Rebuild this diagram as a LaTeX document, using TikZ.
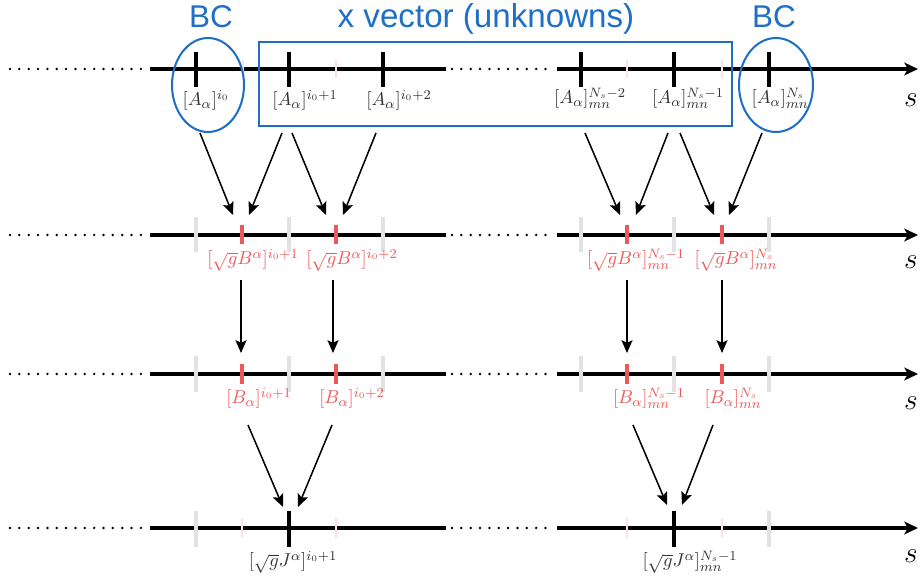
\documentclass[tikz,border=0pt]{standalone}
\usepackage{fontspec}
\newfontfamily\hdfont{Liberation Sans}
\usetikzlibrary{arrows.meta}
\definecolor{kblue}{HTML}{1F6FC5}
\definecolor{kred}{HTML}{EE5858}
\definecolor{kgray}{HTML}{E2E2E2}
\definecolor{kpink}{HTML}{FBE2E2}
\definecolor{ktext}{HTML}{333333}
\begin{document}
\begin{tikzpicture}[x=0.5883pt,y=-0.5883pt,
  axisline/.style={line width=1.8pt},
  axisarrow/.style={line width=1.8pt,-{Stealth[length=8pt,width=7.5pt,inset=2pt]}},
  dotline/.style={line width=1.6pt,line cap=round,dash pattern=on 0pt off 5.5pt},
  tickblack/.style={line width=1.8pt},
  tickred/.style={draw=kred,line width=1.8pt},
  tickgray/.style={draw=kgray,line width=1.8pt},
  tickpink/.style={draw=kpink,line width=1.2pt},
  flow/.style={line width=0.9pt,-{Stealth[length=7.5pt,width=6.5pt,inset=1.5pt]}},
  lbl/.style={anchor=base,inner sep=0pt,font=\fontsize{11}{13}\selectfont,text=ktext},
  rlbl/.style={lbl,text=kred},
  slbl/.style={inner sep=0pt,font=\fontsize{17}{20}\selectfont},
  head/.style={inner sep=0pt,text=kblue,font=\hdfont\fontsize{18.5}{22}\selectfont},
  bluebox/.style={draw=kblue,line width=1.2pt}]
\useasboundingbox (0,0) rectangle (920,579);

% axes
\foreach \r/\y in {1/69,2/235,3/374,4/528}{
  \coordinate (d\r a) at (10,\y);
  \coordinate (d\r b) at (147,\y);
  \coordinate (a\r a) at (150,\y);
  \coordinate (a\r b) at (446,\y);
  \coordinate (e\r a) at (452,\y);
  \coordinate (e\r b) at (553,\y);
  \coordinate (b\r a) at (557,\y);
  \coordinate (b\r b) at (918,\y);
  \draw[dotline] (d\r a) -- (d\r b);
  \draw[axisline] (a\r a) -- (a\r b);
  \draw[dotline] (e\r a) -- (e\r b);
  \draw[axisarrow] (b\r a) -- (b\r b);
}

% row 1 ticks
\foreach \x in {243,336,627,722}{\draw[tickpink] (\x,60) -- (\x,78);}
\foreach \x in {196,289,383,581,674,769}{\draw[tickblack] (\x,52) -- (\x,87);}
% row 2 ticks
\foreach \x in {196,289,383,581,674,769}{\draw[tickgray] (\x,217) -- (\x,252);}
\foreach \x in {242,336,627,722}{\draw[tickred] (\x,225) -- (\x,244);}
% row 3 ticks
\foreach \x in {196,289,383,581,674,769}{\draw[tickgray] (\x,356) -- (\x,392);}
\foreach \x in {242,336,627,722}{\draw[tickred] (\x,364) -- (\x,384);}
% row 4 ticks
\foreach \x in {196,769}{\draw[tickgray] (\x,511) -- (\x,547);}
\foreach \x in {242,336,627,722}{\draw[tickpink] (\x,518) -- (\x,538);}
\foreach \x in {289,674}{\draw[tickblack] (\x,511) -- (\x,547);}

% headings and BC markers
\node[head] (bcl) at (211,17) {BC};
\node[head,anchor=base,font=\hdfont\fontsize{19.5}{23}\selectfont] (xvec) at (486,28) {x vector (unknowns)};
\node[head] (bcr) at (774,17) {BC};
\draw[bluebox] (208,85) ellipse [x radius=36,y radius=47];
\draw[bluebox] (776,85) ellipse [x radius=37,y radius=47];
\draw[bluebox] (259,42) rectangle (732,126);

% s labels
\node[slbl] (s1) at (911,100) {$s$};
\node[slbl] (s2) at (911,262) {$s$};
\node[slbl] (s3) at (911,403) {$s$};
\node[slbl] (s4) at (911,556) {$s$};

% row 1 labels
\node[lbl] (A0) at (206,106) {$[A_\alpha]^{i_0}$};
\node[lbl] (A1) at (305,106) {$[A_\alpha]^{i_0+1}$};
\node[lbl] (A2) at (399,106) {$[A_\alpha]^{i_0+2}$};
\node[lbl] (AN2) at (590,104) {$[A_\alpha]_{mn}^{N_s-2}$};
\node[lbl] (AN1) at (688,104) {$[A_\alpha]_{mn}^{N_s-1}$};
\node[lbl] (AN) at (780,104) {$[A_\alpha]_{mn}^{N_s}$};

% row 2 labels
\node[rlbl] (G1) at (253,265) {$[\sqrt{g}B^\alpha]^{i_0+1}$};
\node[rlbl] (G2) at (352,265) {$[\sqrt{g}B^\alpha]^{i_0+2}$};
\node[rlbl] (GN1) at (636,265) {$[\sqrt{g}B^\alpha]_{mn}^{N_s-1}$};
\node[rlbl] (GN) at (736,265) {$[\sqrt{g}B^\alpha]_{mn}^{N_s}$};

% row 3 labels
\node[rlbl] (B1) at (259,404) {$[B_\alpha]^{i_0+1}$};
\node[rlbl] (B2) at (352,404) {$[B_\alpha]^{i_0+2}$};
\node[rlbl] (BN1) at (649,404) {$[B_\alpha]_{mn}^{N_s-1}$};
\node[rlbl] (BN) at (733,404) {$[B_\alpha]_{mn}^{N_s}$};

% row 4 labels
\node[lbl] (J1) at (293,567) {$[\sqrt{g}J^\alpha]^{i_0+1}$};
\node[lbl] (JN1) at (690,567) {$[\sqrt{g}J^\alpha]_{mn}^{N_s-1}$};

% arrow end points
\coordinate (p1) at (200,133); \coordinate (q1) at (233,215);
\coordinate (p2) at (282,133); \coordinate (q2) at (249,215);
\coordinate (p3) at (292,133); \coordinate (q3) at (326,215);
\coordinate (p4) at (376,133); \coordinate (q4) at (343,215);
\coordinate (p5) at (585,133); \coordinate (q5) at (620,215);
\coordinate (p6) at (668,133); \coordinate (q6) at (636,215);
\coordinate (p7) at (680,133); \coordinate (q7) at (714,215);
\coordinate (p8) at (762,133); \coordinate (q8) at (729,215);
\foreach \i in {1,...,8}{\draw[flow] (p\i) -- (q\i);}

\coordinate (u1) at (241,280); \coordinate (v1) at (241,353);
\coordinate (u2) at (333,280); \coordinate (v2) at (333,353);
\coordinate (u3) at (627,280); \coordinate (v3) at (627,353);
\coordinate (u4) at (722,280); \coordinate (v4) at (722,353);
\foreach \i in {1,...,4}{\draw[flow] (u\i) -- (v\i);}

\coordinate (m1) at (248,425); \coordinate (n1) at (283,507);
\coordinate (m2) at (332,425); \coordinate (n2) at (298,507);
\coordinate (m3) at (633,425); \coordinate (n3) at (667,505);
\coordinate (m4) at (713,425); \coordinate (n4) at (682,505);
\foreach \i in {1,...,4}{\draw[flow] (m\i) -- (n\i);}
\end{tikzpicture}
\end{document}
